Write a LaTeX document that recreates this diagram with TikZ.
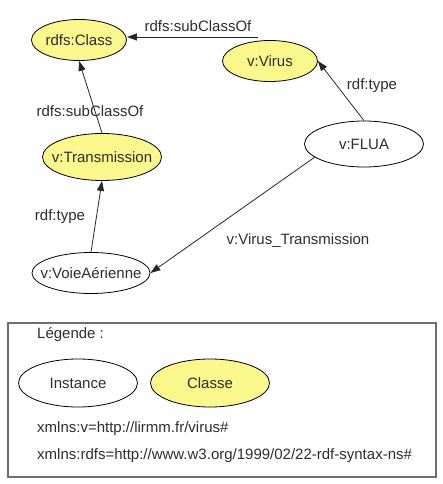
\documentclass[tikz,border=0pt]{standalone}
\usepackage{fontspec}
\setmainfont{Liberation Sans}
\usetikzlibrary{arrows.meta}
\definecolor{clsfill}{RGB}{250,247,140}
\definecolor{txt}{RGB}{45,45,45}
\definecolor{boxline}{RGB}{110,110,110}
\tikzset{
  every node/.style={font=\fontsize{15}{18}\selectfont, text=txt},
  inst/.style={ellipse, draw=black, line width=0.8pt, inner sep=0pt},
  cls/.style={inst, fill=clsfill},
  edge/.style={draw=black!85, line width=0.8pt, -{Triangle[length=10pt,width=7pt]}},
  lbl/.style={inner sep=0pt},
}
\usetikzlibrary{shapes.geometric}
\begin{document}
\begin{tikzpicture}[x=1pt,y=-1pt]
\useasboundingbox (0,0) rectangle (442,484);
% nodes
\node[cls, minimum width=95pt, minimum height=41pt, label={center:rdfs:Class}] (class) at (79,40) {};
\node[cls, minimum width=95pt, minimum height=41pt, label={center:v:Virus}] (virus) at (270,61) {};
\node[inst, minimum width=119pt, minimum height=46pt, label={center:v:FLUA}] (flua) at (364,144) {};
\node[cls, minimum width=119pt, minimum height=47pt, label={center:v:Transmission}] (trans) at (102,157) {};
\node[inst, minimum width=118pt, minimum height=41pt, label={center:v:VoieAérienne}] (voie) at (91,273) {};
% edges
\coordinate (vs) at (258,37);
\draw[edge] (vs) -- (vs -| class.east);
\draw[edge] (flua.north) -- (virus.east);
\draw[edge] (trans.north) -- (class.south);
\draw[edge] (voie.north) -- (trans.south);
\draw[edge] (flua.195) -- (voie.east);
% labels
\node[lbl] (l1) at (198,26) {rdfs:subClassOf};
\node[lbl] (l2) at (372,86) {rdf:type};
\node[lbl] (l3) at (90,111) {rdfs:subClassOf};
\node[lbl] (l4) at (60,217) {rdf:type};
\node[lbl] (l5) at (298,241) {v:Virus\_Transmission};
% legend
\draw[boxline, line width=1.2pt] (8,323) rectangle (436,477);
\node[lbl, anchor=west] (leg) at (37,335) {Légende :};
\node[inst, minimum width=119pt, minimum height=48pt, label={center:Instance}] (instance) at (78,383) {};
\node[cls, minimum width=119pt, minimum height=48pt, label={center:Classe}] (classe) at (210,383) {};
\node[lbl, anchor=west] (ns1) at (37,429) {xmlns:v=http://lirmm.fr/virus\#};
\node[lbl, anchor=west] (ns2) at (37,456) {xmlns:rdfs=http://www.w3.org/1999/02/22-rdf-syntax-ns\#};
\end{tikzpicture}
\end{document}
